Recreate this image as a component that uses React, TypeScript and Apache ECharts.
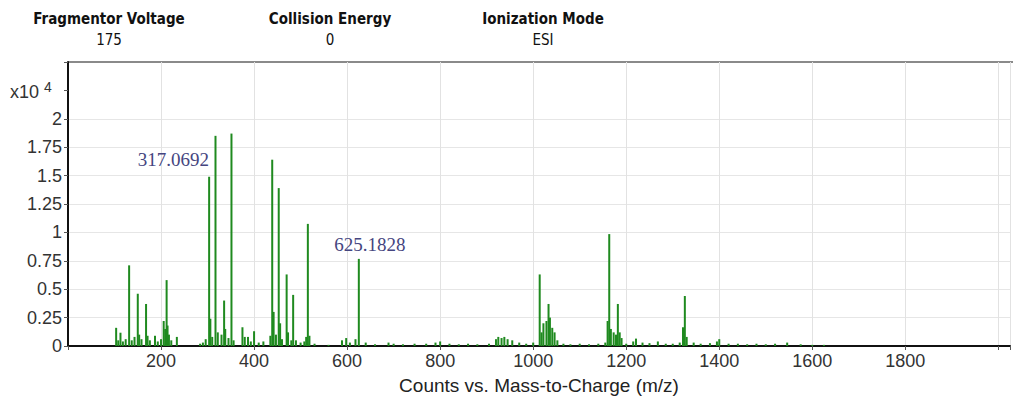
import React, { useEffect, useRef } from "react";
import * as echarts from "echarts";

const headerTitles = ["Fragmentor Voltage", "Collision Energy", "Ionization Mode"];
const headerValues = ["175", "0", "ESI"];

const mzValues = [
  103.5, 108, 112.8, 118, 124, 131.4, 137, 143, 150, 153, 158, 167.8, 171, 176, 187, 193, 200,
  205.7, 209, 212, 214, 217, 222, 234, 284, 290, 296, 303.4, 306, 310, 317.0692, 322, 330, 335.6,
  338, 345, 351.4, 356, 375, 380, 387, 393, 400, 410, 420, 435, 439, 442, 447, 453, 456, 460, 470,
  473, 480, 484, 490, 500, 508, 512, 515.6, 519, 530, 560, 589, 598, 606, 618, 625.1828, 640, 660,
  689, 700, 720, 745, 770, 790, 800, 820, 840, 860, 880, 905, 920, 925, 932, 938, 945, 955, 970,
  985, 1000, 1014, 1018, 1022, 1028.5, 1033, 1036, 1041, 1046, 1052, 1065, 1080, 1100, 1120, 1140,
  1155, 1160, 1163.5, 1167, 1173, 1178, 1182, 1186, 1190, 1200, 1215, 1221, 1235, 1250, 1268, 1285,
  1300, 1315, 1322, 1326, 1330, 1345, 1360, 1380, 1395, 1400, 1420, 1440, 1460, 1480, 1500, 1520,
  1546, 1575, 1600, 1625,
];
const intensities = [
  0.16, 0.05, 0.117, 0.04, 0.06, 0.71, 0.05, 0.08, 0.46, 0.1, 0.06, 0.37, 0.09, 0.05, 0.09, 0.04, 0.06,
  0.22, 0.15, 0.58, 0.18, 0.1, 0.05, 0.08, 0.02, 0.03, 0.06, 1.49, 0.24, 0.08, 1.85, 0.12, 0.1, 0.4,
  0.15, 0.07, 1.87, 0.05, 0.165, 0.08, 0.08, 0.04, 0.13, 0.03, 0.04, 0.09, 1.64, 0.3, 0.1, 1.39, 0.2, 0.06, 0.63,
  0.12, 0.05, 0.45, 0.05, 0.03, 0.04, 0.08, 1.075, 0.09, 0.02, 0.01, 0.05, 0.07, 0.03, 0.06, 0.767, 0.03, 0.015,
  0.03, 0.02, 0.015, 0.02, 0.02, 0.03, 0.04, 0.02, 0.015, 0.02, 0.015, 0.02, 0.06, 0.08, 0.07, 0.08, 0.06, 0.05, 0.03,
  0.02, 0.03, 0.63, 0.12, 0.2, 0.22, 0.37, 0.25, 0.16, 0.12, 0.05, 0.02, 0.015, 0.02, 0.015, 0.02,
  0.03, 0.22, 0.985, 0.15, 0.12, 0.1, 0.37, 0.12, 0.07, 0.02, 0.04, 0.065, 0.03, 0.025, 0.04, 0.02,
  0.02, 0.03, 0.165, 0.44, 0.08, 0.03, 0.02, 0.025, 0.04, 0.06, 0.02, 0.02, 0.015, 0.02, 0.015, 0.02,
  0.03, 0.015, 0.01, 0.01,
];
const annotatedPeaks = ["317.0692", "625.1828"];
const xTickValues = [200, 400, 600, 800, 1000, 1200, 1400, 1600, 1800];
const yTickValues = [0, 0.25, 0.5, 0.75, 1, 1.25, 1.5, 1.75, 2];

export default function App() {
  const ref = useRef<HTMLDivElement>(null);
  useEffect(() => {
    if (!ref.current) return;
    const chart = echarts.init(ref.current, null, { renderer: "svg" });
    const labelStyle = {
      show: true,
      position: "top",
      fontFamily: "Liberation Serif",
      fontSize: 19,
      color: "#454580",
    };
    const data = mzValues.map((mz, i) => {
      const tag = annotatedPeaks.find((a) => Math.abs(parseFloat(a) - mz) < 0.001);
      const item: any = { value: [mz, intensities[i]] };
      if (tag === "317.0692") {
        item.label = { ...labelStyle, formatter: tag, offset: [-42, 38] };
      } else if (tag === "625.1828") {
        item.label = { ...labelStyle, formatter: tag, offset: [11, 0] };
      }
      return item;
    });
    const headerX = [109, 330, 543];
    const graphics: any[] = [];
    headerTitles.forEach((t, i) => {
      graphics.push({
        type: "text",
        x: headerX[i],
        y: 19,
        style: {
          text: t,
          fontFamily: "DejaVu Sans Condensed",
          fontWeight: "bold",
          fontSize: 15,
          fill: "#111",
          align: "center",
          verticalAlign: "middle",
        },
      });
      graphics.push({
        type: "text",
        x: headerX[i],
        y: 40,
        style: {
          text: headerValues[i],
          fontFamily: "DejaVu Sans Condensed",
          fontSize: 15,
          fill: "#111",
          align: "center",
          verticalAlign: "middle",
        },
      });
    });
    graphics.push({
      type: "text",
      x: 10,
      y: 80,
      style: {
        text: "x10 {s|4}",
        fontFamily: "Liberation Sans",
        fontSize: 18,
        fill: "#333",
        rich: {
          s: { fontSize: 14, fontFamily: "Liberation Sans", fill: "#333", verticalAlign: "top", padding: [0, 0, 10, 0] },
        },
      },
    });
    graphics.push({
      type: "line",
      shape: { x1: 68, y1: 62, x2: 1013, y2: 62 },
      style: { stroke: "#8a8a8a", lineWidth: 2 },
    });

    chart.setOption({
      animation: false,
      backgroundColor: "#fff",
      grid: { left: 68, right: 0, top: 62, bottom: 49, containLabel: false },
      xAxis: {
        type: "value",
        min: 0,
        max: 2025,
        interval: 200,
        name: "Counts vs. Mass-to-Charge (m/z)",
        nameLocation: "middle",
        nameGap: 30,
        nameTextStyle: { fontFamily: "Liberation Sans", fontSize: 19, color: "#222" },
        axisLine: { show: true, lineStyle: { color: "#111", width: 2 } },
        axisTick: { show: true, length: 4, lineStyle: { color: "#555" } },
        axisLabel: {
          fontFamily: "Liberation Sans",
          fontSize: 18,
          color: "#333",
          margin: 6,
          formatter: (v: number) => (xTickValues.includes(v) ? String(v) : ""),
        },
        splitLine: { show: true, lineStyle: { color: "#e2e2e2", width: 1 } },
      },
      yAxis: {
        type: "value",
        min: 0,
        max: 2.5,
        interval: 0.25,
        axisLine: { show: true, lineStyle: { color: "#111", width: 2 } },
        axisTick: { show: true, length: 4, lineStyle: { color: "#555" } },
        axisLabel: {
          fontFamily: "Liberation Sans",
          fontSize: 18,
          color: "#333",
          margin: 6,
          formatter: (v: number) => (yTickValues.includes(v) ? String(v) : ""),
        },
        splitLine: {
          show: true,
          lineStyle: {
            color: [
              "#e6e6e6", "#e6e6e6", "#e6e6e6", "#e6e6e6", "#e6e6e6", "#e6e6e6",
              "#e6e6e6", "#e6e6e6", "#e6e6e6", "rgba(0,0,0,0)", "rgba(0,0,0,0)",
            ],
          },
        },
      },
      series: [
        {
          type: "bar",
          data,
          barWidth: 2,
          itemStyle: { color: "#1f8a1f" },
          label: { show: false },
        },
      ],
      graphic: graphics,
    });
    return () => chart.dispose();
  }, []);
  return (
    <div
      ref={ref}
      style={{ position: "absolute", left: 0, top: 0, width: 1013, height: 400 }}
    />
  );
}
